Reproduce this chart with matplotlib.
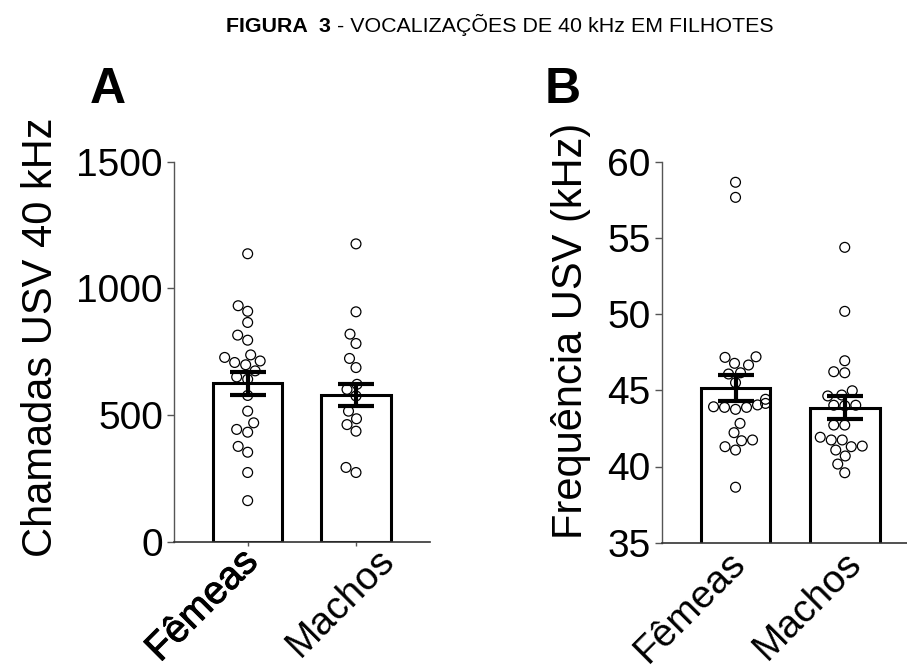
import numpy as np
import matplotlib.pyplot as plt
import matplotlib.patheffects as pe

plt.rcParams['font.family'] = ['Liberation Sans', 'DejaVu Sans']

# Dados
grupos = ['Fêmeas', 'Machos']

# Painel A - chamadas USV 40 kHz
femeas_a = [1136, 931, 909, 865, 815, 795, 737, 727, 713, 707, 698, 674, 650, 641,
            577, 515, 469, 443, 432, 376, 353, 273, 162]
machos_a = [1175, 907, 819, 782, 723, 687, 621, 601, 575, 515, 485, 462, 436, 293, 273]
media_a = [625, 578]
epm_a = [45, 44]

# Painel B - frequência (kHz)
femeas_b = [58.65, 57.66, 47.2, 47.16, 46.77, 46.66, 46.07, 46.15, 45.5, 44.41, 44.04,
            43.88, 43.88, 43.92, 43.75, 44.14, 42.83, 42.22, 41.74, 41.69, 41.3, 41.08, 38.64]
machos_b = [54.38, 50.18, 46.94, 46.15, 46.22, 44.97, 44.69, 44.63, 44.02, 44.02, 43.99,
            42.72, 42.72, 41.92, 41.74, 41.74, 41.3, 41.08, 41.34, 40.69, 40.16, 39.59]
media_b = [45.15, 43.85]
epm_b = [0.87, 0.75]

W, H = 907, 671
fig = plt.figure(figsize=(W / 100, H / 100), dpi=100)


def eixo_px(l, t, r, b):
    return fig.add_axes([l / W, 1 - b / H, (r - l) / W, (b - t) / H])


def swarm(ax, xc, vals, dist=11.0):
    # beeswarm simples: cada ponto vai para o deslocamento mais próximo do centro sem sobrepor
    T = ax.transData
    ypx = T.transform(np.column_stack([np.full(len(vals), xc), vals]))[:, 1]
    ppu = T.transform([[1, 0]])[0, 0] - T.transform([[0, 0]])[0, 0]
    cand = np.arange(-60, 61) * 0.5
    cand = cand[np.argsort(np.abs(cand), kind='stable')]
    colocados = []
    offs = np.zeros(len(vals))
    for k in np.argsort(ypx):
        for d in cand:
            if all((d - px) ** 2 + (ypx[k] - py) ** 2 >= dist ** 2 for px, py in colocados):
                break
        colocados.append((d, ypx[k]))
        offs[k] = d
    return xc + offs / ppu


def painel(ax, pontos, medias, erros, ylim, yticks, xlim, desloc, realce):
    x = np.arange(len(grupos))
    ax.set_xlim(xlim)
    ax.set_ylim(ylim)
    ax.bar(x, medias, width=0.64, color='white', edgecolor='black', linewidth=2.2, zorder=1)
    for i, vals in enumerate(pontos):
        xs = swarm(ax, i, vals)
        ax.scatter(xs, vals, s=50, facecolors='none', edgecolors='black',
                   linewidths=0.9, zorder=2, clip_on=False)
    ax.errorbar(x, medias, yerr=erros, fmt='none', ecolor='black', elinewidth=3,
                capsize=13, capthick=3, zorder=3)
    for s in ['top', 'right']:
        ax.spines[s].set_visible(False)
    ax.spines['left'].set_color('#555555')
    ax.spines['bottom'].set_color('#333333')
    ax.spines['left'].set_linewidth(1)
    ax.spines['bottom'].set_linewidth(1.2)
    ax.set_yticks(yticks)
    ax.tick_params(axis='y', length=5, width=1, color='#555555', labelsize=28, pad=3)
    ax.set_xticks(x)
    ax.set_xticklabels([])
    ax.tick_params(axis='x', length=3, width=1, color='#555555')
    for i, nome in enumerate(grupos):
        t = ax.annotate(nome, xy=(i, 0), xycoords=('data', 'axes fraction'),
                        xytext=(desloc[i][0] * 0.72, -desloc[i][1] * 0.72),
                        textcoords='offset points', rotation=45, rotation_mode='anchor',
                        ha='right', va='top', fontsize=28)
        if realce[i]:
            t.set_path_effects([pe.withStroke(linewidth=0.7, foreground='black')])


axA = eixo_px(174, 161.5, 430, 541.7)
painel(axA, [femeas_a, machos_a], media_a, epm_a, (0, 1500), [0, 500, 1000, 1500],
       (-0.68, 1.683), [(-8, 2), (20, 0)], [True, False])

axB = eixo_px(661.7, 161.7, 907, 542.7)
painel(axB, [femeas_b, machos_b], media_b, epm_b, (35, 60), [35, 40, 45, 50, 55, 60],
       (-0.676, 1.57), [(-8, 2), (-2, 2)], [False, False])
axB.tick_params(axis='x', length=0)

# rótulos dos eixos
fig.text(52 / W, 1 - 337 / H, 'Chamadas USV 40 kHz', rotation=90, rotation_mode='anchor',
         ha='center', va='baseline', fontsize=30)
fig.text(582 / W, 1 - 331 / H, 'Frequência USV (kHz)', rotation=90, rotation_mode='anchor',
         ha='center', va='baseline', fontsize=30)

# letras dos painéis
fig.text(108 / W, 1 - 103 / H, 'A', fontsize=36, fontweight='bold', ha='center', va='baseline')
fig.text(563 / W, 1 - 103 / H, 'B', fontsize=36, fontweight='bold', ha='center', va='baseline')

# título (parte em negrito + parte normal)
t1 = fig.text(0, 1 - 32 / H, 'FIGURA  3', fontsize=15.4, fontweight='bold', va='baseline')
t2 = fig.text(0, 1 - 32 / H, ' - VOCALIZAÇÕES DE 40 kHz EM FILHOTES', fontsize=15.4, va='baseline')
fig.canvas.draw()
r = fig.canvas.get_renderer()
w1 = t1.get_window_extent(r).width
w2 = t2.get_window_extent(r).width
x0 = 500 - (w1 + w2) / 2
t1.set_x(x0 / W)
t2.set_x((x0 + w1) / W)

fig.savefig('out.png', dpi=100)
